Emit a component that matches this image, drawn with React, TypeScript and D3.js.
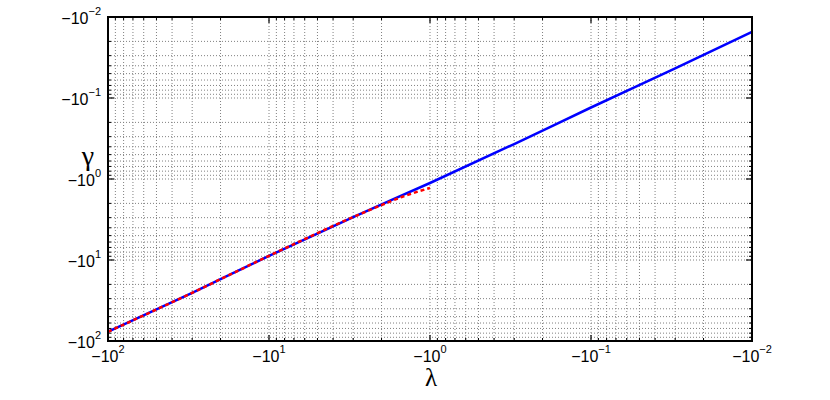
import React from "react";
import * as d3 from "d3";

const lambdaBlue = [-100, -30, -10, -3, -1, -0.3, -0.1, -0.03, -0.01];
const gammaBlue = [-77, -25.4, -8.9, -2.95, -1.12, -0.37, -0.131, -0.043, -0.0153];
const lambdaRed = [-100, -30, -10, -3, -2, -1.5, -1];
const gammaRed = [-77, -25.4, -8.9, -2.95, -2.1, -1.67, -1.29];
const xTickExps = [2, 1, 0, -1, -2];
const yTickExps = [2, 1, 0, -1, -2];

const W = 830, H = 400;
const L = 108, R = 752, T = 17, B = 341;

function supText(e: number) {
  return e < 0 ? "\u2212" + Math.abs(e) : String(e);
}

export default function App() {
  const x = d3.scaleLog().domain([100, 0.01]).range([L, R]);
  const y = d3.scaleLog().domain([100, 0.01]).range([B, T]);

  const minor: number[] = [];
  for (let e = -2; e < 2; e++) {
    for (let k = 2; k <= 9; k++) minor.push(k * Math.pow(10, e));
  }
  const major = [0.01, 0.1, 1, 10, 100];

  const line = d3
    .line<[number, number]>()
    .x((d) => x(Math.abs(d[0])))
    .y((d) => y(Math.abs(d[1])))
    .curve(d3.curveMonotoneX);
  const blue = line(lambdaBlue.map((l, i) => [l, gammaBlue[i]]) as [number, number][]) || "";
  const red = line(lambdaRed.map((l, i) => [l, gammaRed[i]]) as [number, number][]) || "";

  const font = "'Liberation Sans', Arial, Helvetica, sans-serif";
  const greek = "'Liberation Serif', 'Times New Roman', serif";
  const gridStyle = { stroke: "#808080", strokeWidth: 1, strokeDasharray: "1,2" };
  const gridVals = [...minor, ...major.slice(1, -1)];

  return (
    <div style={{ position: "fixed", left: 0, top: 0 }}>
      <svg width={W} height={H} style={{ display: "block", background: "#fff" }}>
        <rect x={0} y={0} width={W} height={H} fill="#fff" />
        {gridVals.map((v, i) => (
          <line key={"gx" + i} x1={x(v)} x2={x(v)} y1={T} y2={B} style={gridStyle} />
        ))}
        {gridVals.map((v, i) => (
          <line key={"gy" + i} x1={L} x2={R} y1={y(v)} y2={y(v)} style={gridStyle} />
        ))}
        {minor.map((v, i) => (
          <g key={"mt" + i} stroke="#000" strokeWidth={1}>
            <line x1={x(v)} x2={x(v)} y1={B} y2={B - 3} />
            <line x1={x(v)} x2={x(v)} y1={T} y2={T + 3} />
            <line x1={L} x2={L + 3} y1={y(v)} y2={y(v)} />
            <line x1={R} x2={R - 3} y1={y(v)} y2={y(v)} />
          </g>
        ))}
        {major.map((v, i) => (
          <g key={"Mt" + i} stroke="#000" strokeWidth={1.2}>
            <line x1={x(v)} x2={x(v)} y1={B} y2={B - 6} />
            <line x1={x(v)} x2={x(v)} y1={T} y2={T + 6} />
            <line x1={L} x2={L + 6} y1={y(v)} y2={y(v)} />
            <line x1={R} x2={R - 6} y1={y(v)} y2={y(v)} />
          </g>
        ))}
        <path d={blue} fill="none" stroke="#0000ff" strokeWidth={2.5} />
        <path d={red} fill="none" stroke="#ff0000" strokeWidth={2.5} strokeDasharray="4,3" />
        <rect x={L} y={T} width={R - L} height={B - T} fill="none" stroke="#000" strokeWidth={2} />
        {xTickExps.map((e) => (
          <text key={"xl" + e} x={x(Math.pow(10, e))} y={362} fontFamily={font} fontSize={16} textAnchor="middle" fill="#000">
            <tspan>{"\u221210"}</tspan>
            <tspan dy={-9} fontSize={11}>{supText(e)}</tspan>
          </text>
        ))}
        {yTickExps.map((e) => (
          <text key={"yl" + e} x={101} y={y(Math.pow(10, e)) + 7} fontFamily={font} fontSize={16} textAnchor="end" fill="#000">
            <tspan>{"\u221210"}</tspan>
            <tspan dy={-9} fontSize={11}>{supText(e)}</tspan>
          </text>
        ))}
        <text x={431} y={386} fontFamily={greek} fontSize={25} textAnchor="middle" fill="#000">λ</text>
        <text x={88} y={165} fontFamily={greek} fontSize={28} textAnchor="middle" fill="#000">γ</text>
      </svg>
    </div>
  );
}
